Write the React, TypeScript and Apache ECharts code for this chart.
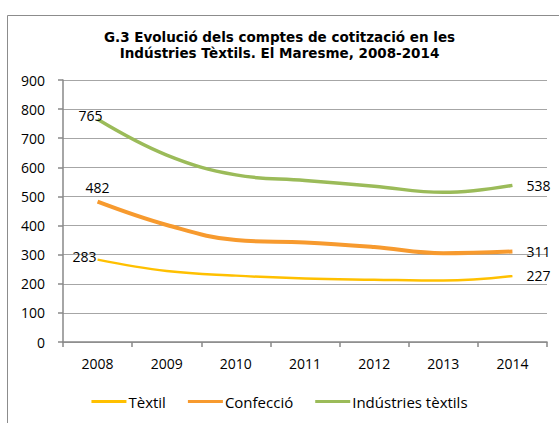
import React, { useEffect, useRef } from "react";
import * as echarts from "echarts";

const years = ["2008", "2009", "2010", "2011", "2012", "2013", "2014"];
const textil = [283, 244, 228, 218, 214, 211, 227];
const confeccio = [482, 402, 350, 342, 326, 305, 311];
const industries = [765, 642, 574, 555, 535, 514, 538];

const FONT = "'Open Sans', 'Liberation Sans', sans-serif";

function withLabels(values: number[], first: any) {
  return values.map((v, i) => {
    if (i === 0) return { value: v, label: { show: true, ...first } };
    if (i === values.length - 1)
      return { value: v, label: { show: true, position: "right", distance: 14 } };
    return { value: v };
  });
}

export default function App() {
  const ref = useRef<HTMLDivElement>(null);
  useEffect(() => {
    const chart = echarts.init(ref.current!, null, { renderer: "svg" });
    const labelStyle = { color: "#000", fontFamily: FONT, fontSize: 14 };
    chart.setOption({
      animation: false,
      backgroundColor: "#fff",
      title: {
        text: "G.3 Evolució dels comptes de cotització en les\nIndústries Tèxtils. El Maresme, 2008-2014",
        left: "center",
        top: 24,
        textStyle: {
          fontFamily: "'DejaVu Sans', Verdana, sans-serif",
          fontWeight: "bold",
          fontSize: 13.5,
          lineHeight: 16,
          color: "#000",
        },
      },
      graphic: [
        {
          type: "rect",
          shape: { x: 7.5, y: 15.5, width: 700, height: 600 },
          style: { fill: "none", stroke: "#8c8c8c", lineWidth: 1 },
          silent: true,
        },
      ],
      legend: {
        bottom: 9,
        left: "center",
        icon: "rect",
        itemWidth: 35,
        itemHeight: 3,
        itemGap: 22,
        textStyle: { fontFamily: FONT, fontSize: 15, color: "#000", padding: [0, 0, 0, -3] },
        data: ["Tèxtil", "Confecció", "Indústries tèxtils"],
      },
      grid: { left: 63, right: 12, top: 80, bottom: 81 },
      xAxis: {
        type: "category",
        data: years,
        boundaryGap: true,
        axisLine: { lineStyle: { color: "#888", width: 1.5 } },
        axisTick: { show: true, length: 5, lineStyle: { color: "#888", width: 1.5 } },
        axisLabel: { color: "#000", fontFamily: FONT, fontSize: 14, margin: 14 },
      },
      yAxis: {
        type: "value",
        min: 0,
        max: 900,
        interval: 100,
        axisLine: { show: true, lineStyle: { color: "#888", width: 1.5 } },
        axisTick: { show: true, length: 5, lineStyle: { color: "#888", width: 1.5 } },
        splitLine: { lineStyle: { color: "#a6a6a6", width: 1 } },
        axisLabel: { color: "#000", fontFamily: FONT, fontSize: 14, margin: 18 },
      },
      series: [
        {
          name: "Tèxtil",
          type: "line",
          smooth: 0.4,
          symbol: "circle",
          symbolSize: 0,
          color: "#FFC000",
          lineStyle: { width: 2.5, color: "#FFC000" },
          label: labelStyle,
          data: withLabels(textil, { position: "left", distance: 1, offset: [0, -3] }),
        },
        {
          name: "Confecció",
          type: "line",
          smooth: 0.4,
          symbol: "circle",
          symbolSize: 0,
          color: "#F79A2E",
          lineStyle: { width: 4, color: "#F79A2E" },
          label: labelStyle,
          data: withLabels(confeccio, { position: "top", distance: 7 }),
        },
        {
          name: "Indústries tèxtils",
          type: "line",
          smooth: 0.4,
          symbol: "circle",
          symbolSize: 0,
          color: "#9BBB59",
          lineStyle: { width: 3.5, color: "#9BBB59" },
          label: labelStyle,
          data: withLabels(industries, { position: "left", distance: -5, offset: [0, -4] }),
        },
      ],
    });
    return () => chart.dispose();
  }, []);
  return (
    <div
      ref={ref}
      style={{ position: "absolute", left: 0, top: 0, width: 559, height: 423 }}
    />
  );
}
